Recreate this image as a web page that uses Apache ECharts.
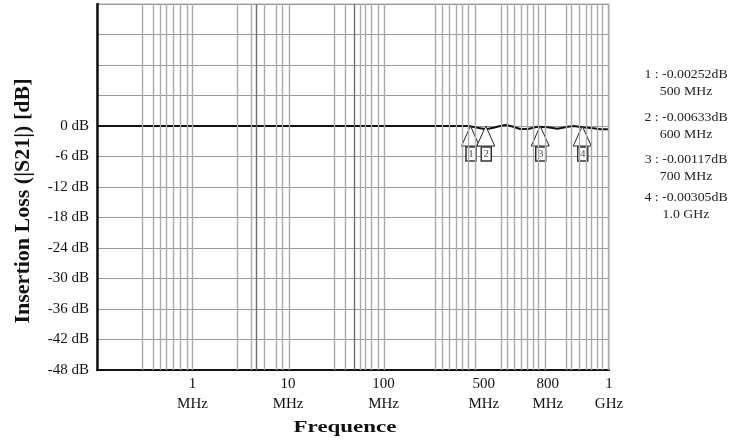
<!DOCTYPE html>
<html>
<head>
<meta charset="utf-8">
<title>Insertion Loss</title>
<script src="https://cdn.jsdelivr.net/npm/echarts@6/dist/echarts.min.js"></script>
<style>
  html, body { margin: 0; padding: 0; background: #fff; }
  #chart { width: 742px; height: 444px; }
</style>
</head>
<body>
<div id="chart"></div>
<script>
// x axis is in "decade position" units: 1 = 1 MHz, 2 = 10 MHz, 3 = 100 MHz ...
const tickPos = [1, 2, 3, 4.05, 4.72, 5.36];
const tickLabels = ['1\nMHz', '10\nMHz', '100\nMHz', '500\nMHz', '800\nMHz', '1\nGHz'];

// vertical grid lines of the plot
const gridPos = [
  0.47, 0.595, 0.655, 0.735, 0.795, 0.87, 0.94, 1.0,
  1.47, 1.608, 1.67, 1.747, 1.88, 1.942, 2.013,
  2.481, 2.604, 2.694, 2.758, 2.81, 2.874, 2.941, 3.013,
  3.545, 3.609, 3.686, 3.761, 3.821, 3.892, 3.962,
  4.229, 4.289, 4.37, 4.441, 4.502, 4.566, 4.618, 4.689,
  4.913, 4.973, 5.055, 5.115, 5.175, 5.239, 5.292, 5.353
];
const darkGridPos = [1.67, 2.694];

// |S21| trace
const traceX = [0, 3.89, 3.97, 4.07, 4.15, 4.22, 4.28, 4.35, 4.43, 4.51, 4.61, 4.72, 4.82, 4.93, 4.99, 5.08, 5.2, 5.27, 5.36];
const traceDb = [0, 0, -0.3, -0.65, -0.35, 0, 0.2, -0.1, -0.6, -0.6, -0.13, -0.26, -0.53, -0.13, 0, -0.26, -0.46, -0.65, -0.65];

// markers
const markerPos = [3.91, 4.07, 4.64, 5.08];
const markerDb = [-0.00252, -0.00633, -0.00117, -0.00305];
const markerFreq = ['500 MHz', '600 MHz', '700 MHz', '1.0 GHz'];

const serif = '"Liberation Serif", "Times New Roman", serif';

let myChart = echarts.init(document.getElementById('chart'));

// readout texts on the right
let readoutY = [75, 118, 160, 198];
let readouts = [];
markerDb.forEach((v, i) => {
  readouts.push({
    type: 'text', x: 686, y: readoutY[i], scaleX: 1.15,
    style: {text: (i + 1) + ' : ' + v.toFixed(5) + 'dB', font: '12px ' + serif, fill: '#222',
      textAlign: 'center', textVerticalAlign: 'middle'}
  });
  readouts.push({
    type: 'text', x: 686, y: readoutY[i] + 17, scaleX: 1.15,
    style: {text: markerFreq[i], font: '12px ' + serif, fill: '#222',
      textAlign: 'center', textVerticalAlign: 'middle'}
  });
});

function renderMarker(params, api) {
  let p = api.coord([api.value(0), api.value(1)]);
  let x = p[0], y = p[1];
  return {
    type: 'group',
    children: [
      {type: 'polygon', shape: {points: [[x, y], [x - 9, y + 20], [x + 9, y + 20]]},
        style: {fill: '#fff', stroke: '#222', lineWidth: 1}},
      {type: 'rect', shape: {x: x - 4.5, y: y + 21, width: 10, height: 14},
        style: {fill: '#fff', stroke: '#333', lineWidth: 1.5}},
      {type: 'text', x: x + 0.5, y: y + 28.5,
        style: {text: String(api.value(2)), font: '11px ' + serif, fill: '#3a5270',
          textAlign: 'center', textVerticalAlign: 'middle'}}
    ]
  };
}

myChart.setOption({
  animation: false,
  grid: {left: 97, right: 133, top: 4, bottom: 74, show: true, borderColor: '#aaa', borderWidth: 1},
  xAxis: {
    type: 'value',
    min: 0,
    max: 5.36,
    axisLine: {show: true, onZero: false, lineStyle: {color: '#111', width: 2}},
    axisTick: {show: false},
    splitLine: {show: false},
    axisLabel: {
      customValues: tickPos,
      formatter: (v) => {
        let i = tickPos.indexOf(v);
        return i >= 0 ? tickLabels[i] : '';
      },
      margin: 4,
      lineHeight: 20,
      fontSize: 15,
      fontFamily: serif,
      color: '#111'
    }
  },
  yAxis: {
    type: 'value',
    min: -48,
    max: 24,
    interval: 6,
    axisLine: {show: true, onZero: false, lineStyle: {color: '#111', width: 2.5}},
    axisTick: {show: false},
    splitLine: {lineStyle: {color: '#999', width: 1.2}},
    axisLabel: {
      formatter: (v) => v <= 0 ? v + ' dB' : '',
      margin: 8,
      fontSize: 15,
      fontFamily: serif,
      color: '#111'
    }
  },
  graphic: [
    {type: 'text', x: 23, y: 201, rotation: Math.PI / 2,
      style: {text: 'Insertion Loss (|S21|) [dB]', font: 'bold 22px ' + serif, fill: '#111',
        textAlign: 'center', textVerticalAlign: 'middle'}},
    {type: 'text', x: 345, y: 428, scaleX: 1.35,
      style: {text: 'Frequence', font: 'bold 17px ' + serif, fill: '#111',
        textAlign: 'center', textVerticalAlign: 'middle'}}
  ].concat(readouts),
  series: [
    {
      name: 'grid',
      type: 'line',
      data: [],
      z: 1,
      markLine: {
        silent: true,
        symbol: ['none', 'none'],
        label: {show: false},
        lineStyle: {type: 'solid', width: 1.4, color: '#ababab'},
        data: gridPos.map((v) => ({
          xAxis: v,
          lineStyle: {type: 'solid', width: 1.4, color: darkGridPos.indexOf(v) >= 0 ? '#707070' : '#ababab'}
        }))
      }
    },
    {
      name: 'S21',
      type: 'line',
      z: 3,
      showSymbol: false,
      lineStyle: {color: '#111', width: 2},
      data: traceX.map((x, i) => [x, traceDb[i]])
    },
    {
      name: 'markers',
      type: 'custom',
      z: 4,
      renderItem: renderMarker,
      data: markerPos.map((x, i) => [x, markerDb[i], i + 1])
    }
  ]
});
</script>
</body>
</html>
